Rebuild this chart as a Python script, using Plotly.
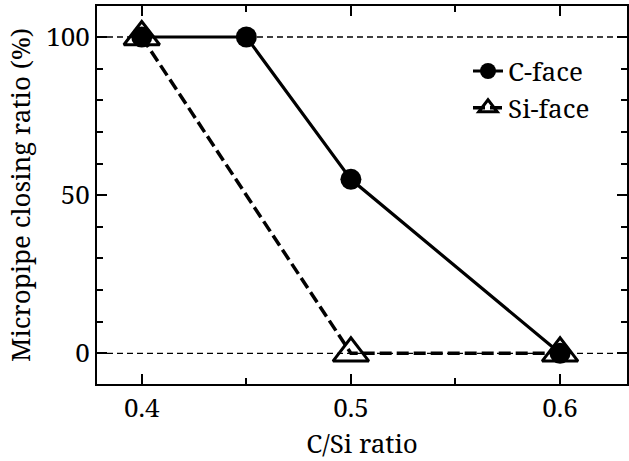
import plotly.graph_objects as go

c_x = [0.4, 0.45, 0.5, 0.6]
c_y = [100, 100, 55, 0]
si_x = [0.4, 0.5, 0.6]
si_y = [100, 0, 0]
x_ticks = [0.4, 0.5, 0.6]
x_ticklabels = ["0.4", "0.5", "0.6"]
y_ticks = [0, 50, 100]
y_ticklabels = ["0", "50", "100"]
ref_lines = [0, 100]

FONT = "Noto Serif, DejaVu Serif, serif"

fig = go.Figure()
fig.add_trace(go.Scatter(
    x=c_x, y=c_y, mode="lines+markers", name="C-face",
    line=dict(color="black", width=3.2),
    marker=dict(symbol="circle", size=21, color="black"),
))
fig.add_trace(go.Scatter(
    x=si_x, y=si_y, mode="lines+markers", name="Si-face",
    line=dict(color="black", width=3.5, dash="12px,5px"),
    marker=dict(symbol="triangle-up-open", size=31, color="black", line=dict(width=3, color="black")),
))

for yv in ref_lines:
    fig.add_shape(type="line", xref="paper", yref="y", x0=0, x1=1, y0=yv, y1=yv,
                  line=dict(color="black", width=1.3, dash="6px,4px"), layer="below")

axis_common = dict(
    showline=True, linecolor="black", linewidth=2, mirror="allticks",
    ticks="inside", ticklen=10, tickwidth=2, tickcolor="black",
    showgrid=False, zeroline=False,
    tickfont=dict(family=FONT, size=26, color="black"),
)

fig.update_xaxes(
    range=[0.3786, 0.632], tickvals=x_ticks, ticktext=x_ticklabels,
    minor=dict(dtick=0.05, tick0=0.4, ticklen=6, tickwidth=2, tickcolor="black", ticks="inside"),
    title=dict(text="C/Si ratio", font=dict(family=FONT, size=26, color="black"), standoff=18),
    **axis_common,
)
fig.update_yaxes(
    range=[-9.7, 109.8], tickvals=y_ticks, ticktext=y_ticklabels,
    minor=dict(dtick=10, tick0=0, ticklen=6, tickwidth=2, tickcolor="black", ticks="inside"),
    title=dict(text="Micropipe closing ratio (%)", font=dict(family=FONT, size=26, color="black"), standoff=8),
    **axis_common,
)

fig.update_layout(
    width=629, height=461,
    font=dict(family=FONT, color="black"),
    margin=dict(l=97, r=0, t=6, b=75),
    paper_bgcolor="white", plot_bgcolor="white",
    showlegend=True,
    legend=dict(x=0.70, y=0.89, xanchor="left", yanchor="top",
                font=dict(family=FONT, size=26, color="black"),
                bgcolor="rgba(0,0,0,0)", tracegroupgap=0, itemwidth=30),
)

fig.write_html("out.html")
